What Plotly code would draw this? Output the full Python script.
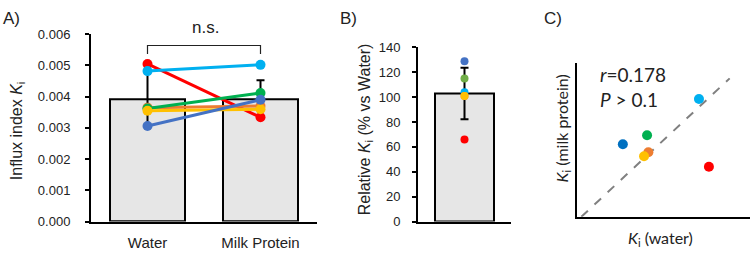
import plotly.graph_objects as go

W, H = 750, 254

# ---- data ----
categories = ["Water", "Milk Protein"]
colors = ["#ff0000", "#00b0f0", "#ed7d31", "#00b050", "#ffc000", "#4472c4"]
colors_b = ["#ff0000", "#00b0f0", "#ed7d31", "#70ad47", "#ffc000", "#4472c4"]
colors_c = ["#ff0000", "#00b0f0", "#ed7d31", "#00b050", "#ffc000", "#0070c0"]
ki_water = [0.00505, 0.00482, 0.00365, 0.00362, 0.00355, 0.00306]
ki_milk = [0.00334, 0.00502, 0.00370, 0.00412, 0.00360, 0.00390]
mean_ki = [0.00393, 0.00393]
sd_ki = [0.00085, 0.00060]
relative = [66, 104, 101, 115, 101, 129]
rel_mean = [103]
rel_sd = [20.7]
ticks_a = [0, 0.001, 0.002, 0.003, 0.004, 0.005, 0.006]
ticks_a_text = ["0.000", "0.001", "0.002", "0.003", "0.004", "0.005", "0.006"]
ticks_b = [0, 20, 40, 60, 80, 100, 120, 140]


def px(x):
    return x / W


def py(y):
    return 1 - y / H


fig = go.Figure()
FONT = "Liberation Sans, Arial"
FONT_C = "Lato, Carlito, Calibri"
TXT = "#222222"

# Panel A bars
fig.add_trace(go.Bar(
    x=[0, 1], y=mean_ki, width=0.664,
    marker=dict(color="#e6e6e6", line=dict(color="black", width=2)),
    error_y=dict(type="data", array=sd_ki, color="black", thickness=2, width=4),
    xaxis="x", yaxis="y", showlegend=False))
for i in range(len(ki_water)):
    fig.add_trace(go.Scatter(
        x=[0, 1], y=[ki_water[i], ki_milk[i]], mode="lines+markers",
        line=dict(color=colors[i], width=3), marker=dict(color=colors[i], size=10),
        xaxis="x", yaxis="y", showlegend=False, cliponaxis=False))

# Panel B
fig.add_trace(go.Bar(
    x=[0], y=rel_mean, width=0.645,
    marker=dict(color="#e6e6e6", line=dict(color="black", width=2)),
    error_y=dict(type="data", array=rel_sd, color="black", thickness=2, width=4),
    xaxis="x2", yaxis="y2", showlegend=False))
fig.add_trace(go.Scatter(
    x=[0] * len(relative), y=relative, mode="markers",
    marker=dict(color=colors_b, size=8),
    xaxis="x2", yaxis="y2", showlegend=False, cliponaxis=False))

# Panel C
fig.add_trace(go.Scatter(
    x=[0.0021, 0.00553], y=[0.0021, 0.00553], mode="lines",
    line=dict(color="#808080", width=2, dash="dash"),
    xaxis="x3", yaxis="y3", showlegend=False))
fig.add_trace(go.Scatter(
    x=ki_water, y=ki_milk, mode="markers",
    marker=dict(color=colors_c, size=10),
    xaxis="x3", yaxis="y3", showlegend=False, cliponaxis=False))

axis_common = dict(showline=True, linecolor="black", linewidth=2, showgrid=False,
                   zeroline=False, mirror=False)

fig.update_layout(
    width=W, height=H, margin=dict(l=0, r=0, t=0, b=0),
    paper_bgcolor="white", plot_bgcolor="white",
    font=dict(family=FONT, color=TXT, size=13),
    bargap=0,
    xaxis=dict(domain=[px(91), px(317)], range=[-0.5, 1.5], anchor="y",
               tickvals=[0, 1], ticktext=categories, ticks="",
               tickfont=dict(size=15, family=FONT, color=TXT),
               ticklabelstandoff=6, **axis_common),
    yaxis=dict(domain=[py(228), py(29)], range=[0, 0.006], anchor="x",
               tickvals=ticks_a, ticktext=ticks_a_text, ticks="outside", ticklen=4,
               tickwidth=2, tickcolor="black",
               tickfont=dict(size=13, family=FONT, color=TXT),
               ticklabelstandoff=12, **axis_common),
    xaxis2=dict(domain=[px(418), px(511)], range=[-0.5, 0.5], anchor="y2",
                showticklabels=False, ticks="", **axis_common),
    yaxis2=dict(domain=[py(228), py(43)], range=[0, 140], anchor="x2",
                tickvals=ticks_b, ticks="outside", ticklen=4, tickwidth=2,
                tickcolor="black",
                tickfont=dict(size=13, family=FONT, color=TXT),
                ticklabelstandoff=9, **axis_common),
    xaxis3=dict(domain=[px(577), px(750)], range=[0.002, 0.006], anchor="y3",
                showticklabels=False, ticks="", **axis_common),
    yaxis3=dict(domain=[py(223), py(60)], range=[0.0021, 0.0059], anchor="x3",
                showticklabels=False, ticks="", **axis_common),
)

# n.s. bracket (data coordinates of panel A)
fig.add_shape(type="path", path="M 0,0.00537 L 0,0.00564 L 1,0.00564 L 1,0.00537",
              xref="x", yref="y", line=dict(color=TXT, width=1.2))

annos = [
    dict(x=px(205), y=py(22), text="n.s.", font=dict(size=17, family=FONT)),
    dict(x=px(11), y=py(12), text="A)", font=dict(size=17, family=FONT)),
    dict(x=px(348), y=py(12), text="B)", font=dict(size=17, family=FONT)),
    dict(x=px(553), y=py(12), text="C)", font=dict(size=17, family=FONT)),
    dict(x=px(17), y=py(132), text="Influx index <i>K</i><sub>i</sub>",
         textangle=-90, font=dict(size=16, family=FONT)),
    dict(x=px(365), y=py(130), text="Relative <i>K</i><sub>i</sub> (% vs Water)",
         textangle=-90, font=dict(size=16, family=FONT)),
    dict(x=px(562), y=py(129), text="<i>K</i><sub>i</sub> (milk protein)",
         textangle=-90, font=dict(size=16, family=FONT_C)),
    dict(x=px(660), y=py(246), text="<i>K</i><sub>i</sub> (water)",
         font=dict(size=16, family=FONT_C)),
    dict(x=px(598), y=py(72), text="<i>r</i>=0.178", xanchor="left",
         font=dict(size=19, family=FONT_C)),
    dict(x=px(598), y=py(98), text="<i>P</i> > 0.1", xanchor="left",
         font=dict(size=19, family=FONT_C)),
]
for a in annos:
    a.setdefault("xanchor", "center")
    a.update(xref="paper", yref="paper", showarrow=False, yanchor="middle")
    a["font"].setdefault("color", TXT)
    fig.add_annotation(**a)

fig.write_html("out.html")
